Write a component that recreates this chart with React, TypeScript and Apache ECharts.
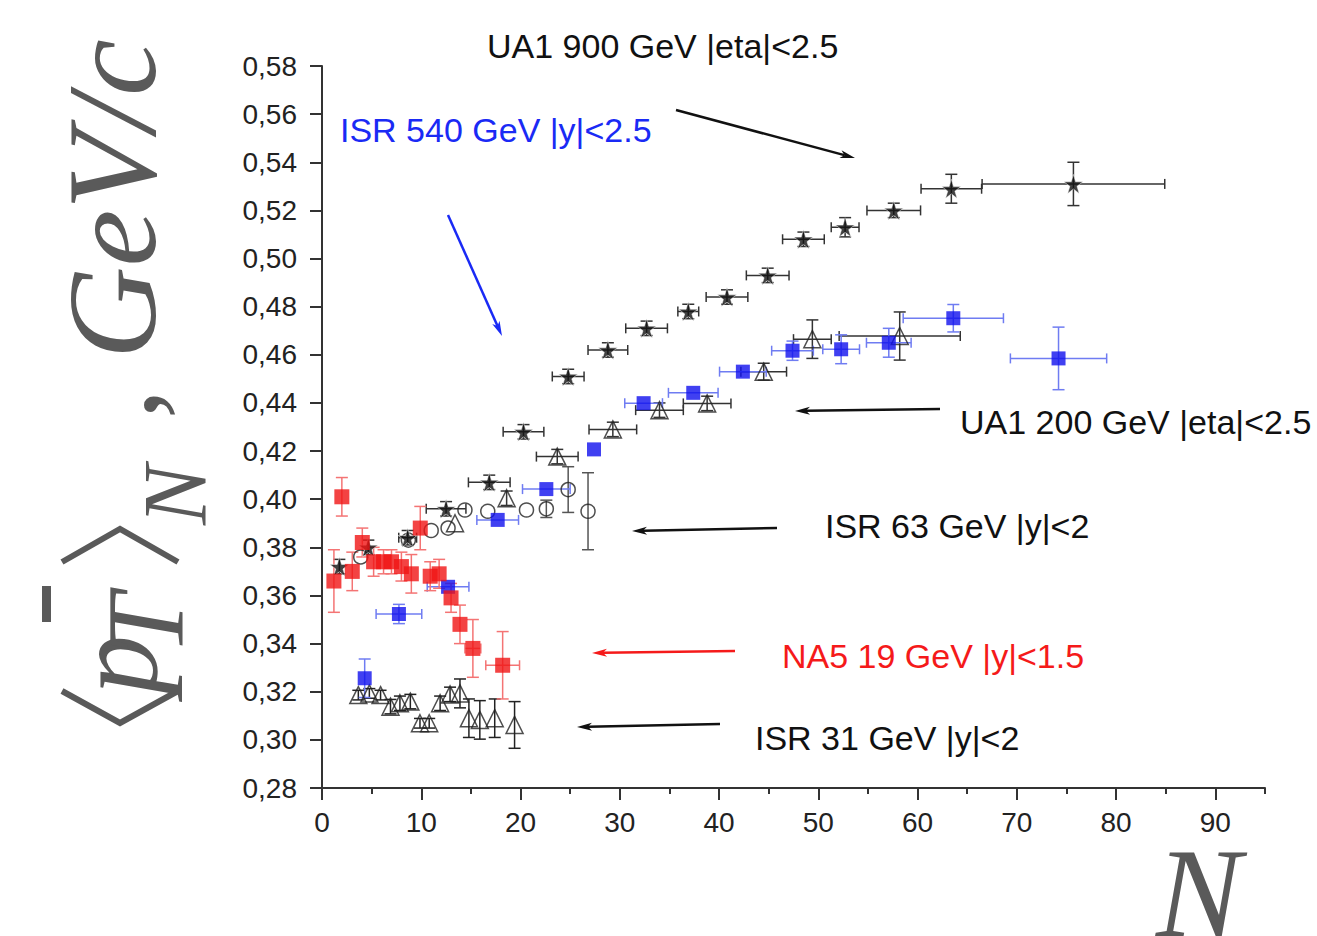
import React, { useEffect, useRef } from 'react';
import * as echarts from 'echarts';

// ---------- DATA ----------
// NA5 19 GeV |y|<1.5 (red squares)
const na5N = [1.2, 2.0, 3.05, 4.06, 5.2, 6.2, 7.0, 8.0, 9.0, 9.9, 10.9, 11.8, 13.0, 13.9, 15.2, 18.2];
const na5Pt = [0.366, 0.401, 0.370, 0.382, 0.374, 0.374, 0.374, 0.372, 0.369, 0.388, 0.368, 0.369, 0.359, 0.348, 0.338, 0.331];
const na5Xerr = [0, 0, 0, 0, 0, 0, 0, 0, 0, 0, 0, 0, 0, 0, 0.8, 1.7];
const na5Yerr = [0.013, 0.008, 0.008, 0.006, 0.006, 0.005, 0.005, 0.006, 0.008, 0.009, 0.006, 0.006, 0.006, 0.008, 0.012, 0.014];

// 540 GeV |y|<2.5 (blue squares)
const b540N = [4.3, 7.75, 12.7, 17.7, 22.6, 27.4, 32.4, 37.4, 42.4, 47.4, 52.3, 57.1, 63.6, 74.2];
const b540Pt = [0.3256, 0.3523, 0.3636, 0.3914, 0.4042, 0.4207, 0.4399, 0.4442, 0.453, 0.4617, 0.4623, 0.465, 0.4752, 0.4585];
const b540Xerr = [0, 2.3, 2.1, 2.1, 2.4, 0, 1.9, 2.5, 2.35, 2.1, 1.85, 2.25, 5.05, 4.85];
const b540Yerr = [0.008, 0.004, 0, 0, 0, 0, 0, 0, 0, 0.004, 0.006, 0.006, 0.0057, 0.013];

// UA1 900 GeV |eta|<2.5 (stars)
const ua900N = [1.75, 4.67, 8.63, 12.5, 16.85, 20.3, 24.8, 28.8, 32.7, 36.9, 40.8, 44.9, 48.5, 52.7, 57.6, 63.4, 75.7];
const ua900Pt = [0.372, 0.380, 0.384, 0.396, 0.407, 0.428, 0.451, 0.462, 0.471, 0.478, 0.484, 0.493, 0.508, 0.513, 0.520, 0.529, 0.531];
const ua900Xerr = [0, 0, 0.9, 2.0, 2.1, 2.05, 1.6, 2.0, 2.1, 1.05, 2.1, 2.15, 2.1, 1.4, 2.7, 3.05, 9.2];
const ua900Yerr = [0.003, 0.003, 0.003, 0.003, 0.003, 0.003, 0.003, 0.003, 0.003, 0.003, 0.003, 0.003, 0.003, 0.004, 0.003, 0.006, 0.009];

// UA1 200 GeV |eta|<2.5 (open triangles)
const ua200N = [13.4, 18.6, 23.7, 29.3, 34.0, 38.8, 44.5, 49.4, 58.2];
const ua200Pt = [0.390, 0.4004, 0.4177, 0.429, 0.437, 0.4398, 0.453, 0.4665, 0.4678];
const ua200Xerr = [0, 0, 2.1, 2.4, 2.4, 2.4, 2.3, 1.9, 6.1];
const ua200Yerr = [0, 0.003, 0.003, 0.003, 0.003, 0.003, 0.0035, 0.008, 0.01];

// ISR 63 GeV |y|<2 (open circles)
const isr63N = [3.9, 8.7, 11.0, 12.7, 14.4, 16.7, 20.6, 22.6, 24.8, 26.8];
const isr63Pt = [0.376, 0.383, 0.387, 0.388, 0.3955, 0.395, 0.3955, 0.396, 0.404, 0.395];
const isr63Xerr = [0, 0, 0, 0, 0, 0, 0, 0, 0, 0];
const isr63Yerr = [0, 0, 0, 0, 0, 0, 0, 0.0036, 0.0095, 0.016];

// ISR 31 GeV |y|<2 (open triangles)
const isr31N = [3.66, 4.77, 5.9, 6.9, 7.85, 8.9, 9.87, 10.8, 11.9, 12.9, 13.9, 14.8, 15.9, 17.4, 19.4];
const isr31Pt = [0.3186, 0.3193, 0.3186, 0.3138, 0.3152, 0.3159, 0.3069, 0.3069, 0.3152, 0.3189, 0.3193, 0.309, 0.3083, 0.309, 0.3062];
const isr31Xerr = [0, 0, 0, 0, 0, 0, 0, 0, 0, 0, 0, 0, 0, 0, 0];
const isr31Yerr = [0.002, 0.002, 0.002, 0.003, 0.003, 0.003, 0.002, 0.002, 0.003, 0.003, 0.006, 0.008, 0.008, 0.008, 0.0097];

const xMajorTicks = [0, 10, 20, 30, 40, 50, 60, 70, 80, 90];
const xMinorTicks = [5, 15, 25, 35, 45, 55, 65, 75, 85, 95];

const annotations = [
  { text: 'UA1 900 GeV |eta|<2.5', color: '#111111' },
  { text: 'ISR 540 GeV |y|<2.5', color: '#1a2af5' },
  { text: 'UA1 200 GeV |eta|<2.5', color: '#111111' },
  { text: 'ISR 63 GeV |y|<2', color: '#111111' },
  { text: 'NA5 19 GeV |y|<1.5', color: '#f51a1a' },
  { text: 'ISR 31 GeV |y|<2', color: '#111111' },
];
// ---------- END DATA ----------

const STAR = 'path://M50,0 L61,35 L98,35 L68,57 L79,91 L50,70 L21,91 L32,57 L2,35 L39,35 Z';
const SANS = '"Liberation Sans", Arial, Helvetica, sans-serif';
const SERIF = '"Liberation Serif", "Times New Roman", serif';
const GREY = '#5a5a5a';

function pts(n: number[], p: number[]) {
  return n.map((v, i) => [v, p[i]]);
}
function errs(n: number[], p: number[], xe: number[], ye: number[]) {
  return n.map((v, i) => [v, p[i], xe[i], ye[i]]);
}

function errSeries(data: number[][], color: string, width = 1.5) {
  return {
    type: 'custom',
    z: 2,
    silent: true,
    encode: { x: 0, y: 1 },
    data,
    renderItem: (params: any, api: any) => {
      const x = api.value(0);
      const y = api.value(1);
      const xe = api.value(2);
      const ye = api.value(3);
      const children: any[] = [];
      const style = { stroke: color, lineWidth: width, fill: 'none' };
      if (ye > 0) {
        const t = api.coord([x, y + ye]);
        const b = api.coord([x, y - ye]);
        children.push({ type: 'line', shape: { x1: t[0], y1: t[1], x2: b[0], y2: b[1] }, style });
        children.push({ type: 'line', shape: { x1: t[0] - 6, y1: t[1], x2: t[0] + 6, y2: t[1] }, style });
        children.push({ type: 'line', shape: { x1: b[0] - 6, y1: b[1], x2: b[0] + 6, y2: b[1] }, style });
      }
      if (xe > 0) {
        const l = api.coord([x - xe, y]);
        const r = api.coord([x + xe, y]);
        children.push({ type: 'line', shape: { x1: l[0], y1: l[1], x2: r[0], y2: r[1] }, style });
        children.push({ type: 'line', shape: { x1: l[0], y1: l[1] - 5, x2: l[0], y2: l[1] + 5 }, style });
        children.push({ type: 'line', shape: { x1: r[0], y1: r[1] - 5, x2: r[0], y2: r[1] + 5 }, style });
      }
      return { type: 'group', children };
    },
  };
}

function arrow(x1: number, y1: number, x2: number, y2: number, color: string) {
  const dx = x2 - x1;
  const dy = y2 - y1;
  const len = Math.sqrt(dx * dx + dy * dy);
  const ux = dx / len;
  const uy = dy / len;
  const hl = 15;
  const hw = 4;
  const bx = x2 - ux * hl;
  const by = y2 - uy * hl;
  return [
    { type: 'line', silent: true, shape: { x1, y1, x2: bx + ux * 4, y2: by + uy * 4 }, style: { stroke: color, lineWidth: 2.5 } },
    {
      type: 'polygon',
      silent: true,
      shape: { points: [[x2, y2], [bx - uy * hw, by + ux * hw], [bx + ux * 4, by + uy * 4], [bx + uy * hw, by - ux * hw]] },
      style: { fill: color },
    },
  ];
}

function label(text: string, x: number, y: number, color: string) {
  return {
    type: 'text',
    silent: true,
    x,
    y,
    style: { text, fill: color, font: `34px ${SANS}`, textAlign: 'left', textVerticalAlign: 'middle' },
  };
}

export default function App() {
  const ref = useRef<HTMLDivElement>(null);

  useEffect(() => {
    if (!ref.current) return;
    const chart = echarts.init(ref.current, null, { renderer: 'svg' });

    const yTitle = {
      type: 'group',
      x: 155,
      y: 735,
      rotation: Math.PI / 2,
      silent: true,
      children: [
        { type: 'polyline', shape: { points: [[44, -93], [12, -35], [44, 23]] }, style: { stroke: GREY, lineWidth: 6, fill: 'none' } },
        { type: 'text', x: 40, y: -40, style: { text: 'p', fill: GREY, font: `italic 120px ${SERIF}`, textVerticalAlign: 'middle' } },
        { type: 'rect', shape: { x: 113, y: -113, width: 36, height: 9 }, style: { fill: GREY } },
        { type: 'text', x: 80, y: -9, style: { text: 'T', fill: GREY, font: `italic 110px ${SERIF}`, textVerticalAlign: 'middle' } },
        { type: 'polyline', shape: { points: [[173, -93], [206, -35], [173, 23]] }, style: { stroke: GREY, lineWidth: 6, fill: 'none' } },
        { type: 'text', x: 210, y: 20, style: { text: 'N', fill: GREY, font: `italic 90px ${SERIF}`, textVerticalAlign: 'middle' } },
        { type: 'text', x: 316, y: -40, style: { text: ',', fill: GREY, font: `120px ${SERIF}`, textVerticalAlign: 'middle' } },
        { type: 'text', x: 376, y: -43, style: { text: 'GeV/c', fill: GREY, font: `italic 128px ${SERIF}`, textVerticalAlign: 'middle' } },
      ],
    };

    const graphics: any[] = [
      label(annotations[0].text, 487, 46, annotations[0].color),
      label(annotations[1].text, 340, 130, annotations[1].color),
      label(annotations[2].text, 960, 422, annotations[2].color),
      label(annotations[3].text, 825, 526, annotations[3].color),
      label(annotations[4].text, 782, 656, annotations[4].color),
      label(annotations[5].text, 755, 738, annotations[5].color),
      ...arrow(676, 110, 855, 158, '#111111'),
      ...arrow(448, 215, 502, 336, '#1a2af5'),
      ...arrow(940, 409, 795, 411, '#111111'),
      ...arrow(777, 528, 632, 531, '#111111'),
      ...arrow(735, 651, 592, 653, '#f51a1a'),
      ...arrow(720, 724, 577, 727, '#111111'),
      {
        type: 'text',
        silent: true,
        x: 1156,
        y: 893,
        style: {
          text: 'N', fill: GREY, font: `italic 128px ${SERIF}`, lineHeight: 96,
          textAlign: 'left', textVerticalAlign: 'middle',
        },
      },
      yTitle,
    ];

    const openStyle = (c: string) => ({ color: 'rgba(255,255,255,0)', borderColor: c, borderWidth: 1.5 });

    chart.setOption({
      animation: false,
      backgroundColor: '#ffffff',
      grid: { left: 322, top: 66, width: 943, height: 722, containLabel: false },
      xAxis: [
        {
          type: 'value',
          min: 0,
          max: 95,
          interval: 10,
          axisLine: { onZero: false, lineStyle: { color: '#333333', width: 2 } },
          axisTick: { show: true, length: 12, customValues: xMajorTicks, lineStyle: { color: '#333333', width: 2 } },
          axisLabel: {
            customValues: xMajorTicks,
            fontSize: 28,
            fontFamily: SANS,
            color: '#222222',
            margin: 20,
            formatter: (v: number) => (v > 90 ? '' : String(v)),
          },
          splitLine: { show: false },
        },
        {
          type: 'value',
          min: 0,
          max: 95,
          interval: 5,
          position: 'bottom',
          axisLine: { show: false },
          axisTick: { show: true, length: 6, customValues: xMinorTicks, lineStyle: { color: '#333333', width: 2 } },
          axisLabel: { show: false },
          splitLine: { show: false },
        },
      ],
      yAxis: {
        type: 'value',
        min: 0.28,
        max: 0.58,
        interval: 0.02,
        axisLine: { show: true, onZero: false, lineStyle: { color: '#333333', width: 2 } },
        axisTick: { show: true, length: 12, lineStyle: { color: '#333333', width: 2 } },
        axisLabel: {
          fontSize: 28,
          fontFamily: SANS,
          color: '#222222',
          margin: 25,
          formatter: (v: number) => v.toFixed(2).replace('.', ','),
        },
        splitLine: { show: false },
      },
      graphic: graphics,
      series: [
        errSeries(errs(ua900N, ua900Pt, ua900Xerr, ua900Yerr), '#333333'),
        errSeries(errs(ua200N, ua200Pt, ua200Xerr, ua200Yerr), '#333333'),
        errSeries(errs(isr63N, isr63Pt, isr63Xerr, isr63Yerr), '#555555'),
        errSeries(errs(isr31N, isr31Pt, isr31Xerr, isr31Yerr), '#222222'),
        errSeries(errs(b540N, b540Pt, b540Xerr, b540Yerr), '#6f7cf2'),
        errSeries(errs(na5N, na5Pt, na5Xerr, na5Yerr), '#f47474'),
        {
          type: 'scatter', name: 'ISR 31', z: 3, symbol: 'triangle', symbolSize: 17,
          itemStyle: openStyle('#222222'), data: pts(isr31N, isr31Pt),
        },
        {
          type: 'scatter', name: 'ISR 63', z: 3, symbol: 'circle', symbolSize: 14,
          itemStyle: openStyle('#222222'), data: pts(isr63N, isr63Pt),
        },
        {
          type: 'scatter', name: 'UA1 200', z: 3, symbol: 'triangle', symbolSize: 17,
          itemStyle: openStyle('#222222'), data: pts(ua200N, ua200Pt),
        },
        {
          type: 'scatter', name: 'UA1 900', z: 4, symbol: STAR, symbolSize: 19,
          itemStyle: { color: '#111111', borderColor: '#ffffff', borderWidth: 0.6 }, data: pts(ua900N, ua900Pt),
        },
        {
          type: 'scatter', name: '540', z: 5, symbol: 'rect', symbolSize: 14,
          itemStyle: { color: '#1010ee' }, data: pts(b540N, b540Pt),
        },
        {
          type: 'scatter', name: 'NA5', z: 6, symbol: 'rect', symbolSize: 15,
          itemStyle: { color: '#f01414' }, data: pts(na5N, na5Pt),
        },
      ],
    });

    return () => {
      chart.dispose();
    };
  }, []);

  return (
    <div
      ref={ref}
      style={{ position: 'absolute', left: 0, top: 0, width: 1317, height: 936, background: '#fff' }}
    />
  );
}
